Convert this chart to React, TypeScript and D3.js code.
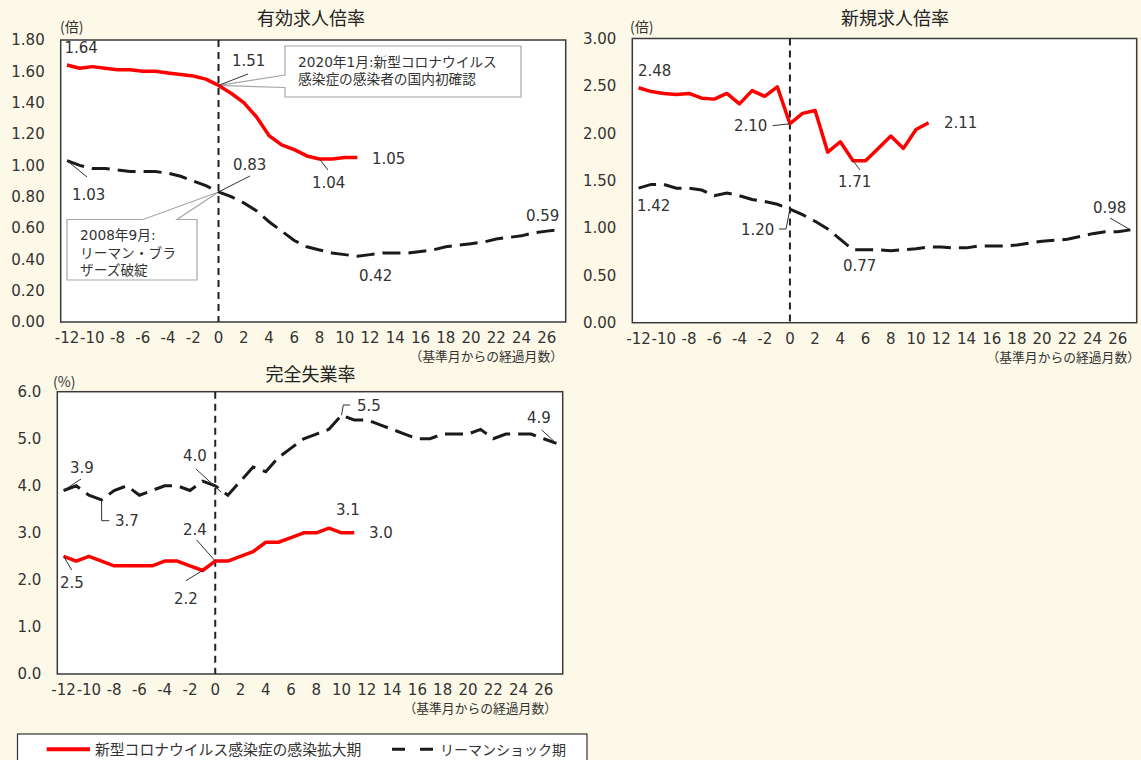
import React from 'react';
import * as d3 from 'd3';

// ---- categories (months from base month) ----
const months = [-12, -11, -10, -9, -8, -7, -6, -5, -4, -3, -2, -1, 0, 1, 2, 3, 4, 5, 6, 7, 8, 9, 10, 11, 12, 13, 14, 15, 16, 17, 18, 19, 20, 21, 22, 23, 24, 25, 26, 27];
const xTickValues = [-12, -10, -8, -6, -4, -2, 0, 2, 4, 6, 8, 10, 12, 14, 16, 18, 20, 22, 24, 26];

// ---- 有効求人倍率 ----
const activeRatioCovid = [1.64, 1.62, 1.63, 1.62, 1.61, 1.61, 1.60, 1.60, 1.59, 1.58, 1.57, 1.55, 1.51, 1.46, 1.40, 1.31, 1.19, 1.13, 1.10, 1.06, 1.04, 1.04, 1.05, 1.05];
const activeRatioLehman = [1.03, 1.00, 0.98, 0.98, 0.97, 0.96, 0.96, 0.96, 0.95, 0.93, 0.90, 0.87, 0.83, 0.80, 0.76, 0.71, 0.64, 0.58, 0.52, 0.48, 0.46, 0.44, 0.43, 0.42, 0.43, 0.44, 0.44, 0.44, 0.45, 0.46, 0.48, 0.49, 0.50, 0.51, 0.53, 0.54, 0.55, 0.57, 0.58, 0.59];
const activeTicks = [0, 0.2, 0.4, 0.6, 0.8, 1.0, 1.2, 1.4, 1.6, 1.8];

// ---- 新規求人倍率 ----
const newRatioCovid = [2.48, 2.44, 2.42, 2.41, 2.42, 2.37, 2.36, 2.42, 2.31, 2.45, 2.39, 2.49, 2.10, 2.21, 2.24, 1.80, 1.91, 1.71, 1.71, 1.84, 1.97, 1.84, 2.04, 2.11];
const newRatioLehman = [1.42, 1.46, 1.46, 1.42, 1.42, 1.40, 1.34, 1.37, 1.34, 1.30, 1.28, 1.25, 1.20, 1.14, 1.07, 0.99, 0.88, 0.77, 0.77, 0.77, 0.76, 0.77, 0.78, 0.80, 0.80, 0.79, 0.79, 0.81, 0.81, 0.81, 0.82, 0.84, 0.86, 0.87, 0.88, 0.91, 0.94, 0.96, 0.96, 0.98];
const newTicks = [0, 0.5, 1.0, 1.5, 2.0, 2.5, 3.0];

// ---- 完全失業率 ----
const unempCovid = [2.5, 2.4, 2.5, 2.4, 2.3, 2.3, 2.3, 2.3, 2.4, 2.4, 2.3, 2.2, 2.4, 2.4, 2.5, 2.6, 2.8, 2.8, 2.9, 3.0, 3.0, 3.1, 3.0, 3.0];
const unempLehman = [3.9, 4.0, 3.8, 3.7, 3.9, 4.0, 3.8, 3.9, 4.0, 4.0, 3.9, 4.1, 4.0, 3.8, 4.1, 4.4, 4.3, 4.6, 4.8, 5.0, 5.1, 5.2, 5.5, 5.4, 5.4, 5.3, 5.2, 5.1, 5.0, 5.0, 5.1, 5.1, 5.1, 5.2, 5.0, 5.1, 5.1, 5.1, 5.0, 4.9];
const unempTicks = [0, 1, 2, 3, 4, 5, 6];

const legendLabels = ['新型コロナウイルス感染症の感染拡大期', 'リーマンショック期'];
const xSubLabel = '（基準月からの経過月数）';

const NUM = '"DejaVu Sans", "Noto Sans CJK JP", sans-serif';
const JP = '"Noto Sans CJK JP", sans-serif';
const TXT = '#333';

type Ann = { text: string; x: number; y: number; leader?: (p: (m: number, v: number) => [number, number]) => [number, number][] };

type PanelCfg = {
  x0: number; x1: number; y0: number; y1: number;
  ymax: number; ticks: number[]; fmt: string;
  covid: number[]; lehman: number[];
  title: string; titleX: number; titleY: number;
  unit: string; unitX: number; unitY: number;
  subRight: number;
  anns: Ann[];
  extra?: (p: (m: number, v: number) => [number, number]) => React.ReactNode;
};

function Panel({ c }: { c: PanelCfg }) {
  const x = d3.scalePoint<number>().domain(months).range([c.x0, c.x1]).padding(0.5);
  const y = d3.scaleLinear().domain([0, c.ymax]).range([c.y1, c.y0]);
  const fmt = d3.format(c.fmt);
  const P = (m: number, v: number): [number, number] => [x(m) as number, y(v)];
  const line = d3.line<[number, number]>().x(d => x(d[0]) as number).y(d => y(d[1]));
  const covidPts = c.covid.map((v, i) => [months[i], v] as [number, number]);
  const lehmanPts = c.lehman.map((v, i) => [months[i], v] as [number, number]);
  const lineGen = d3.line<[number, number]>();
  return (
    <g>
      <rect x={c.x0} y={c.y0} width={c.x1 - c.x0} height={c.y1 - c.y0} fill="#fff" stroke="#3a3a3a" strokeWidth={1.5} />
      <line x1={x(0)} x2={x(0)} y1={c.y0} y2={c.y1} stroke="#222" strokeWidth={2} strokeDasharray="7 5" />
      {c.ticks.map(t => (
        <text key={t} x={c.x0 - 16} y={y(t)} dy="0.36em" textAnchor="end" fontFamily={NUM} fontSize={15} fill={TXT}>{fmt(t)}</text>
      ))}
      {xTickValues.map(t => (
        <text key={t} x={x(t)} y={c.y1 + 21} textAnchor="middle" fontFamily={NUM} fontSize={15} fill={TXT}>{t}</text>
      ))}
      <text x={c.subRight} y={c.y1 + 39} textAnchor="end" fontFamily={JP} fontSize={12.8} fill={TXT}>{xSubLabel}</text>
      <text x={c.titleX} y={c.titleY} textAnchor="middle" fontFamily={JP} fontSize={18} fill="#222">{c.title}</text>
      <text x={c.unitX} y={c.unitY} fontFamily={JP} fontSize={14} fill={TXT}>{c.unit}</text>
      {c.extra && c.extra(P)}
      <path d={line(lehmanPts) || ''} fill="none" stroke="#1a1a1a" strokeWidth={3} strokeDasharray="18 8" />
      <path d={line(covidPts) || ''} fill="none" stroke="#ff0000" strokeWidth={3.5} strokeLinejoin="round" />
      {c.anns.map((a, i) => (
        <g key={i}>
          {a.leader && <path d={lineGen(a.leader(P)) || ''} fill="none" stroke="#333" strokeWidth={1} />}
          <text x={a.x} y={a.y} fontFamily={NUM} fontSize={15} fill={TXT}>{a.text}</text>
        </g>
      ))}
    </g>
  );
}

const panels: PanelCfg[] = [
  {
    x0: 60.7, x1: 565.7, y0: 40, y1: 322, ymax: 1.8, ticks: activeTicks, fmt: '.2f',
    covid: activeRatioCovid, lehman: activeRatioLehman,
    title: '有効求人倍率', titleX: 311, titleY: 25,
    unit: '(倍)', unitX: 60, unitY: 31.5, subRight: 563,
    anns: [
      { text: '1.64', x: 64.5, y: 53 },
      { text: '1.51', x: 232, y: 66, leader: P => [P(0, 1.51), [248, 74]] },
      { text: '0.83', x: 233, y: 170, leader: P => [P(0, 0.83), [250, 176]] },
      { text: '1.03', x: 72, y: 200, leader: P => [P(-12, 1.03), [87, 177]] },
      { text: '1.05', x: 372, y: 164 },
      { text: '1.04', x: 312, y: 188, leader: P => [P(8, 1.04), [328, 170]] },
      { text: '0.42', x: 359, y: 281 },
      { text: '0.59', x: 526, y: 221 },
    ],
    extra: P => {
      const [tx, ty] = P(0, 1.51);
      const [bx, by] = P(0, 0.83);
      return (
        <g>
          <path d={`M285,46 L521,46 L521,97 L285,97 L285,87.5 L${tx},${ty} L285,75 Z`} fill="#fff" stroke="#a6a6a6" strokeWidth={1.2} />
          <text x={298} y={67} fontFamily={NUM} fontSize={13.7} fill={TXT}>2020年1月:新型コロナウイルス</text>
          <text x={298} y={84} fontFamily={NUM} fontSize={13.7} fill={TXT}>感染症の感染者の国内初確認</text>
          <path d={`M67,219.5 L143,219.5 L${bx},${by} L177,219.5 L197,219.5 L197,280 L67,280 Z`} fill="#fff" stroke="#a6a6a6" strokeWidth={1.2} />
          <text x={80} y={240} fontFamily={NUM} fontSize={13.7} fill={TXT}>2008年9月:</text>
          <text x={80} y={258} fontFamily={NUM} fontSize={13.7} fill={TXT}>リーマン・ブラ</text>
          <text x={80} y={275} fontFamily={NUM} fontSize={13.7} fill={TXT}>ザーズ破綻</text>
        </g>
      );
    },
  },
  {
    x0: 632.3, x1: 1136.7, y0: 38.5, y1: 322.7, ymax: 3.0, ticks: newTicks, fmt: '.2f',
    covid: newRatioCovid, lehman: newRatioLehman,
    title: '新規求人倍率', titleX: 895, titleY: 25,
    unit: '(倍)', unitX: 630, unitY: 31.5, subRight: 1140,
    anns: [
      { text: '2.48', x: 638, y: 76 },
      { text: '2.10', x: 734, y: 131, leader: P => [[772.7, 125.7], P(0, 2.10)] },
      { text: '2.11', x: 944, y: 128 },
      { text: '1.71', x: 838, y: 187, leader: P => [P(5, 1.71), [860, 170]] },
      { text: '1.42', x: 637, y: 211 },
      { text: '1.20', x: 741, y: 235, leader: P => [[779, 229], [786, 229], P(0, 1.20)] },
      { text: '0.77', x: 843, y: 271 },
      { text: '0.98', x: 1093, y: 213, leader: P => [[1110, 218], P(27, 0.98)] },
    ],
  },
  {
    x0: 57.3, x1: 562.7, y0: 391.7, y1: 674, ymax: 6, ticks: unempTicks, fmt: '.1f',
    covid: unempCovid, lehman: unempLehman,
    title: '完全失業率', titleX: 310.5, titleY: 381,
    unit: '(%)', unitX: 53, unitY: 386.5, subRight: 557,
    anns: [
      { text: '3.9', x: 70, y: 473, leader: P => [P(-12, 3.9), [81, 479]] },
      { text: '3.7', x: 115, y: 526, leader: P => [P(-9, 3.7), [101.7, 520.7], [109.3, 520.7]] },
      { text: '4.0', x: 183, y: 461, leader: () => [[196, 469], [221, 492]] },
      { text: '2.4', x: 183, y: 535, leader: P => [[196.7, 540], P(0, 2.4)] },
      { text: '2.2', x: 174, y: 604, leader: () => [[186, 580.7], [203.3, 570]] },
      { text: '2.5', x: 60, y: 588, leader: P => [P(-12, 2.5), [71.7, 570]] },
      { text: '5.5', x: 357, y: 411, leader: P => [P(10, 5.5), [343.3, 405], [350, 405]] },
      { text: '4.9', x: 527, y: 423, leader: P => [[541.7, 430], P(27, 4.9)] },
      { text: '3.1', x: 336, y: 515 },
      { text: '3.0', x: 369, y: 538 },
    ],
  },
];

export default function App() {
  return (
    <svg width={1141} height={760} style={{ position: 'absolute', left: 0, top: 0 }}>
      <rect x={0} y={0} width={1141} height={760} fill="#fdf9e8" />
      {panels.map((p, i) => <Panel key={i} c={p} />)}
      <g>
        <rect x={17.5} y={734} width={569.5} height={40} fill="#fff" stroke="#333" strokeWidth={1.2} />
        <line x1={46.7} x2={90} y1={749.3} y2={749.3} stroke="#ff0000" strokeWidth={4} />
        <text x={95} y={754.5} fontFamily={JP} fontSize={14.8} fill={TXT}>{legendLabels[0]}</text>
        <line x1={392} x2={437} y1={749.3} y2={749.3} stroke="#1a1a1a" strokeWidth={3} strokeDasharray="13 15" />
        <text x={440} y={754.5} fontFamily={JP} fontSize={14} fill={TXT}>{legendLabels[1]}</text>
      </g>
    </svg>
  );
}
